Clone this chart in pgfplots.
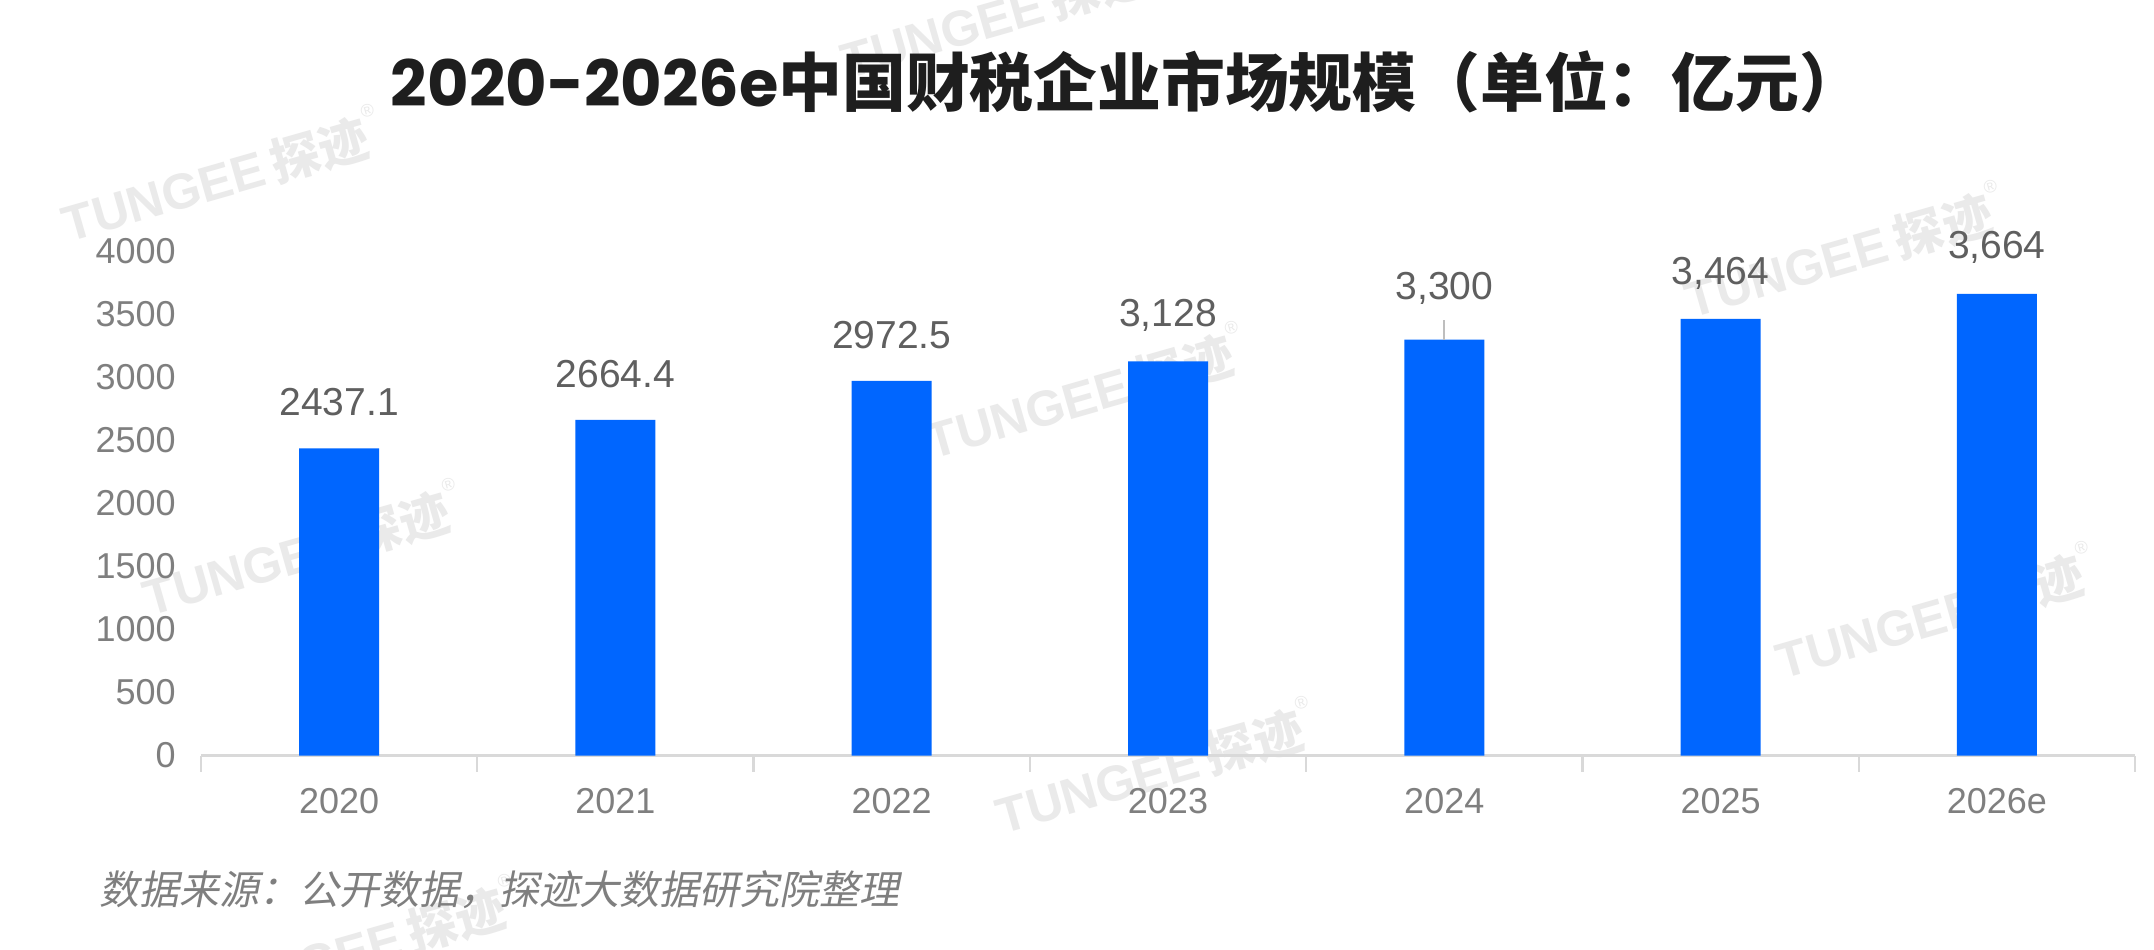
\documentclass[border=0pt]{standalone}
\usepackage{pgfplots}
\pgfplotsset{compat=1.18}
\usepackage{pgfplotstable}
\usepackage{fontspec}
\setmainfont{Liberation Sans}
\newfontfamily\cjk{Noto Sans CJK SC}
\newfontfamily\cjkslant[FakeSlant=0.2]{Noto Sans CJK SC}
\newfontfamily\titlelatin{Poppins}

\definecolor{barblue}{RGB}{0,102,255}
\definecolor{tickgray}{RGB}{127,127,127}
\definecolor{labelgray}{RGB}{95,95,95}
\definecolor{axisgray}{RGB}{217,217,217}
\definecolor{leadgray}{RGB}{190,190,190}
\definecolor{wmgray}{RGB}{234,234,234}
\definecolor{titleblack}{RGB}{30,30,30}

% market size by year (100 million yuan); dy = label offset above the bar in pt
\pgfplotstableread{
x y      label  dy
0 2437.1 2437.1 23
1 2664.4 2664.4 23
2 2972.5 2972.5 23
3 3128   3,128  23
4 3300   3,300  25.5
5 3464   3,464  23
6 3664   3,664  23
}\marketdata

\newcommand{\wm}{{\bfseries TUNGEE\,{\cjk\bfseries 探迹}}\raisebox{0.75em}{\fontsize{9}{9}\selectfont ®}}

\begin{document}
\begin{tikzpicture}
\path[use as bounding box, fill=white] (0,0) rectangle (1077pt,474.5pt);

% background watermark
\begin{scope}[every node/.style={rotate=16, text=wmgray, font=\fontsize{25}{25}\selectfont, inner sep=0pt}]
\node at (500pt,468.5pt) {\wm};
\node at (110.5pt,387pt) {\wm};
\node at (922pt,349pt) {\wm};
\node at (542.5pt,278.5pt) {\wm};
\node at (151pt,200pt) {\wm};
\node at (967.5pt,168.5pt) {\wm};
\node at (577.5pt,91pt) {\wm};
\node at (179pt,2pt) {\wm};
\end{scope}

% title
\node[text=titleblack, font=\fontsize{31.9}{31.9}\selectfont] at (563.5pt,433.5pt)
  {{\titlelatin\bfseries 2020-2026e}{\cjk\bfseries 中国财税企业市场规模（单位：亿元）}};

\begin{axis}[
  at={(100.5pt,96.7pt)}, anchor=south west,
  scale only axis, width=967pt, height=252.1pt,
  xmin=-0.5, xmax=6.5, ymin=0, ymax=4000,
  clip=false,
  axis x line*=bottom, axis y line*=left,
  x axis line style={axisgray, line width=1.3pt, -},
  y axis line style={draw=none},
  xtick={0,...,6},
  xticklabels={2020,2021,2022,2023,2024,2025,2026e},
  major tick length=0pt,
  extra x ticks={-0.5,0.5,...,6.5},
  extra x tick labels={},
  extra x tick style={major tick length=8pt, tick align=outside,
    tick style={axisgray, line width=1.2pt}},
  ytick={0,500,...,4000},
  ytick style={draw=none},
  /pgf/number format/.cd, 1000 sep={}, assume math mode=true, /pgfplots/.cd,
  yticklabel style={anchor=east, inner sep=0pt, xshift=-12.5pt,
    font=\fontsize{18}{18}\selectfont, text=tickgray},
  xticklabel style={anchor=base, inner sep=0pt, yshift=-29pt,
    font=\fontsize{18}{18}\selectfont, text=tickgray},
]
\addplot[ybar, bar width=40pt, fill=barblue, draw=none,
  nodes near coords, point meta=explicit symbolic,
  visualization depends on={\thisrow{dy}\as\labelshift},
  every node near coord/.append style={anchor=center, yshift=\labelshift pt,
    font=\fontsize{19.5}{19.5}\selectfont, text=labelgray}]
  table[x=x, y=y, meta=label] {\marketdata};
% leader line between the 2024 bar and its label
\addplot[leadgray, line width=1pt, no marks, forget plot]
  coordinates {(4,3300) (4,3459)};
\end{axis}

% source note
\node[anchor=west, text=tickgray, font=\fontsize{20}{20}\selectfont, inner sep=0pt]
  at (49.5pt,29.5pt) {\cjkslant 数据来源：公开数据，探迹大数据研究院整理};
\end{tikzpicture}
\end{document}
